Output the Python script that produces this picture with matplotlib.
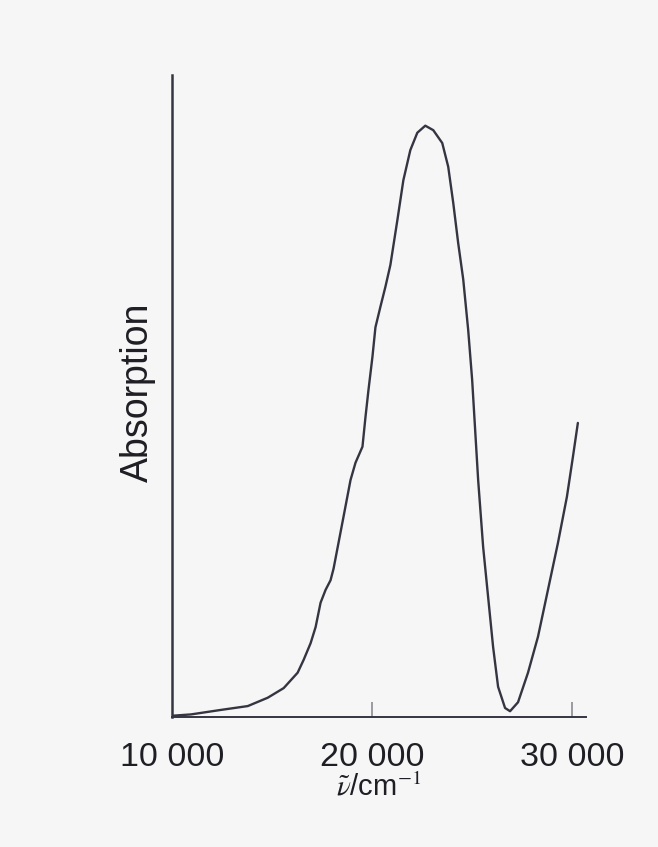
import matplotlib.pyplot as plt

# absorption spectrum: wavenumber in cm^-1, absorption in arbitrary units
wavenumber = [10050, 10948, 12444, 13791, 14788, 15586, 16284, 16584, 16933, 17182,
              17431, 17681, 17930, 18080, 18579, 18928, 19177, 19526, 19676, 19825,
              20025, 20175, 20424, 20673, 20922, 21272, 21571, 21920, 22269, 22668,
              23067, 23516, 23815, 24065, 24314, 24564, 24813, 25012, 25162, 25312,
              25561, 25810, 26060, 26309, 26658, 26908, 27307, 27805, 28304, 28803,
              29302, 29751, 30051, 30299]
absorption = [0.002, 0.004, 0.011, 0.017, 0.030, 0.045, 0.069, 0.089, 0.115, 0.140,
              0.178, 0.198, 0.213, 0.231, 0.312, 0.369, 0.396, 0.421, 0.467, 0.509,
              0.561, 0.607, 0.639, 0.670, 0.704, 0.774, 0.836, 0.883, 0.910, 0.921,
              0.914, 0.894, 0.857, 0.801, 0.738, 0.682, 0.603, 0.525, 0.447, 0.369,
              0.265, 0.187, 0.109, 0.047, 0.014, 0.009, 0.023, 0.069, 0.125, 0.198,
              0.271, 0.343, 0.405, 0.458]

tick_values = [10000, 20000, 30000]
tick_labels = ['10 000', '20 000', '30 000']

ink = '#353542'
text_col = '#1e1e24'
bg = '#f6f6f7'

plt.rcParams['mathtext.fontset'] = 'stix'

fig = plt.figure(figsize=(6.58, 8.47), dpi=100, facecolor=bg)
ax = fig.add_axes([0.2614, 0.1535, 0.629, 0.758])
ax.set_facecolor(bg)

ax.plot(wavenumber, absorption, color=ink, lw=1.7,
        solid_capstyle='round', solid_joinstyle='round')

ax.set_xlim(10050, 30700)
ax.set_ylim(0, 1)

for side in ('top', 'right'):
    ax.spines[side].set_visible(False)
ax.spines['left'].set_color(ink)
ax.spines['bottom'].set_color(ink)
ax.spines['left'].set_linewidth(1.8)
ax.spines['bottom'].set_linewidth(1.4)

ax.set_yticks([])
ax.set_xticks(tick_values)
ax.set_xticklabels(tick_labels, fontsize=24.5, fontfamily='Liberation Sans', color=text_col)
ax.tick_params(axis='x', direction='in', length=11, width=1.2, color='#8a8a90', pad=18)
ax.xaxis.get_major_ticks()[0].tick1line.set_visible(False)

ax.set_ylabel('Absorption', fontsize=27, fontfamily='Liberation Sans', color=text_col)
ax.yaxis.set_label_coords(-0.04, 0.506)
ax.set_xlabel(r'$\tilde{\nu}$/cm$^{-1}$', fontsize=21, fontfamily='Liberation Sans',
              color=text_col, labelpad=0)

fig.savefig('out.png', dpi=100, facecolor=fig.get_facecolor())
